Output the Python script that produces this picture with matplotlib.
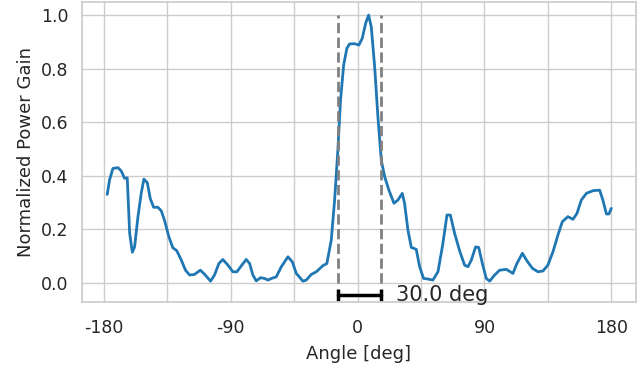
import matplotlib
matplotlib.use("Agg")
import matplotlib.pyplot as plt
import seaborn as sns
import numpy as np

# Angle [deg] and normalized power gain
angle = [-177.6, -176.0, -173.6, -170.0, -167.7, -165.3, -163.4, -161.7, -159.8, -158.2,
         -155.8, -153.5, -151.6, -149.2, -147.1, -144.7, -141.7, -139.3, -137.0, -133.9,
         -131.1, -128.3, -125.1, -122.1, -119.2, -115.7, -111.6, -108.6, -104.3, -101.5,
         -98.4, -95.6, -92.0, -88.5, -85.6, -82.1, -79.0, -76.6, -74.3, -71.9,
         -68.8, -66.0, -63.6, -61.2, -57.7, -54.1, -49.4, -46.3, -43.5, -38.8,
         -36.4, -32.9, -29.3, -24.6, -21.8, -18.7, -16.3, -14.0, -12.1, -9.9,
         -7.6, -5.7, -2.1, 0.9, 3.3, 5.7, 7.8, 9.7, 12.1, 14.4,
         16.8, 19.2, 22.2, 25.8, 28.6, 31.7, 33.3, 35.7, 38.1, 41.6,
         44.0, 46.8, 49.9, 53.4, 57.0, 60.3, 63.4, 65.8, 68.8, 72.4,
         75.9, 78.3, 80.7, 83.7, 85.9, 88.5, 91.3, 93.7, 97.2, 100.8,
         105.5, 110.2, 113.0, 116.9, 120.1, 124.0, 127.9, 131.5, 135.0, 138.6,
         142.1, 145.2, 149.2, 152.8, 155.6, 158.7, 162.3, 167.0, 171.7, 174.0,
         176.5, 178.3, 180.0]
gain = [0.330, 0.383, 0.427, 0.430, 0.418, 0.390, 0.392, 0.185, 0.114, 0.134,
        0.247, 0.334, 0.387, 0.374, 0.315, 0.282, 0.282, 0.269, 0.234, 0.172,
        0.131, 0.120, 0.085, 0.047, 0.029, 0.031, 0.047, 0.032, 0.006, 0.029,
        0.072, 0.087, 0.066, 0.041, 0.041, 0.066, 0.087, 0.072, 0.029, 0.007,
        0.019, 0.016, 0.010, 0.016, 0.022, 0.060, 0.097, 0.078, 0.035, 0.006,
        0.010, 0.031, 0.041, 0.064, 0.072, 0.159, 0.309, 0.496, 0.683, 0.813,
        0.876, 0.892, 0.893, 0.888, 0.913, 0.969, 1.000, 0.956, 0.807, 0.620,
        0.458, 0.396, 0.346, 0.297, 0.309, 0.334, 0.297, 0.197, 0.132, 0.125,
        0.060, 0.016, 0.014, 0.010, 0.041, 0.140, 0.253, 0.253, 0.185, 0.119,
        0.066, 0.060, 0.085, 0.134, 0.132, 0.072, 0.016, 0.006, 0.029, 0.047,
        0.050, 0.035, 0.072, 0.110, 0.082, 0.054, 0.041, 0.044, 0.066, 0.116,
        0.178, 0.228, 0.247, 0.237, 0.259, 0.309, 0.334, 0.344, 0.346, 0.309,
        0.257, 0.257, 0.278]

beam_edges = [-13.7, 16.3]
bar_label = "30.0 deg"
major_ticks = [-180, -90, 0, 90, 180]
minor_ticks = [-135, -45, 45, 135]

sns.set_theme(style="whitegrid")
plt.rcParams['font.family'] = ['DejaVu Sans']

fig = plt.figure(figsize=(6.44, 3.67), dpi=100)
ax = fig.add_axes([0.1269, 0.1763, 0.8607, 0.8191])

ax.plot(angle, gain, color="#1f77b4", lw=2)
ax.vlines(beam_edges, 0, 1, colors="grey", linestyles="--", lw=2)

bar_y = -0.046
ax.plot(beam_edges, [bar_y, bar_y], color="black", lw=2.5,
        marker="|", markersize=8, markeredgewidth=2.5)
ax.text(beam_edges[1] + 11, bar_y, bar_label, fontsize=15, va="center",
        ha="left", color="0.15")

ax.set_xticks(major_ticks)
ax.set_xticklabels([str(t) for t in major_ticks])
ax.set_xticks(minor_ticks, minor=True)
ax.grid(True, which="both", color="#cccccc", lw=1)
ax.tick_params(axis="both", labelsize=12.5, colors="0.15")
ax.tick_params(axis="x", pad=6)
ax.set_xlim(-195.7, 197.5)
ax.set_ylim(-0.073, 1.05)
ax.set_yticks([0.0, 0.2, 0.4, 0.6, 0.8, 1.0])
ax.set_xlabel("Angle [deg]", fontsize=13, color="0.15", labelpad=6)
ax.set_ylabel("Normalized Power Gain", fontsize=13, color="0.15")

fig.savefig("out.png", dpi=100)
